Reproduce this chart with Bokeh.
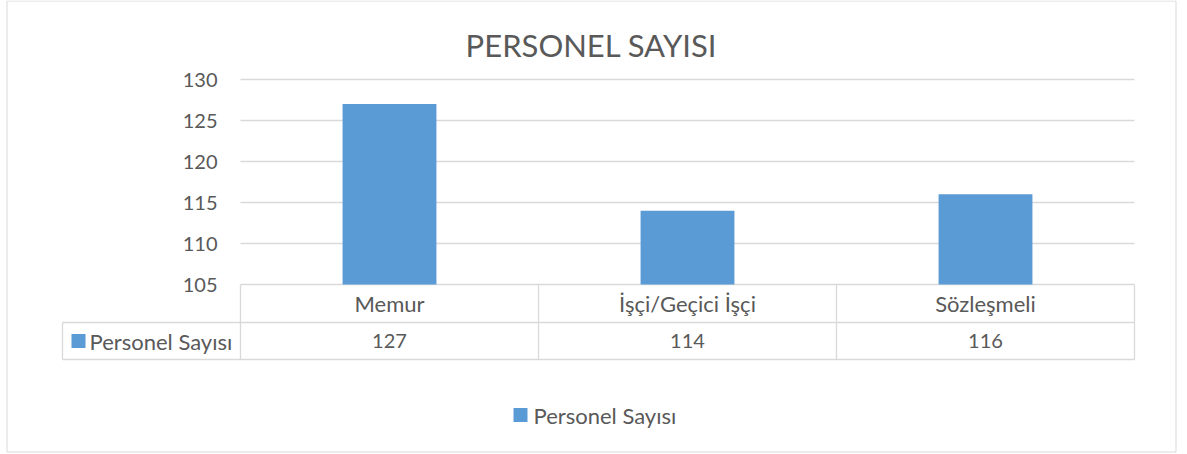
from bokeh.plotting import figure
from bokeh.models import Range1d
from bokeh.core.properties import value
from bokeh.embed import file_html
from bokeh.resources import INLINE

# ---- data ----
title_text = "PERSONEL SAYISI"
series_name = "Personel Sayısı"
categories = ["Memur", "İşçi/Geçici İşçi", "Sözleşmeli"]
values = [127, 114, 116]
y_ticks = [105, 110, 115, 120, 125, 130]
y_min, y_max = 105, 130

# ---- layout (pixels) ----
W, H = 1187, 454
PL, PR, PT, PB = 240, 1134, 79, 284          # plot area
ROW1, ROW2 = 322, 359                         # table row bottoms
TABLE_LEFT = 62
FONT = value("Lato")
TXT = "#595959"
GRID = "#d9d9d9"
BAR = "#5b9bd5"

n = len(categories)
px_per_cat = (PR - PL) / n
px_per_val = (PB - PT) / (y_max - y_min)

p = figure(width=W, height=H, output_backend="svg", toolbar_location=None,
           x_axis_type=None, y_axis_type=None,
           x_range=Range1d(0 - PL / px_per_cat, n + (W - PR) / px_per_cat),
           y_range=Range1d(y_min - (H - PB) / px_per_val, y_max + PT / px_per_val),
           min_border=0, outline_line_color=None)
p.grid.visible = False
p.extra_x_ranges = {"px": Range1d(0, W)}
p.extra_y_ranges = {"px": Range1d(H, 0)}

# outer border
p.quad(left=[6.5], right=[1175.5], top=[0.5], bottom=[451.5], fill_color=None,
       line_color=GRID, line_width=1, x_range_name="px", y_range_name="px")

# title
p.text(x=[591], y=[44], text=[title_text], text_font=FONT, text_font_size="31px",
       text_color=TXT, text_align="center", text_baseline="middle",
       x_range_name="px", y_range_name="px")

# gridlines
p.segment(x0=[0] * len(y_ticks), x1=[n] * len(y_ticks), y0=y_ticks, y1=y_ticks,
          line_color=GRID, line_width=1.3)

# y tick labels
p.text(x=[217] * len(y_ticks), y=y_ticks, text=[str(t) for t in y_ticks],
       text_font=FONT, text_font_size="20px", text_color=TXT,
       text_align="right", text_baseline="middle", x_range_name="px")

# bars
xc = [i + 0.5 for i in range(n)]
p.vbar(x=xc, top=values, bottom=y_min, width=0.315, fill_color=BAR, line_color=None)

# data table
p.segment(x0=[TABLE_LEFT, TABLE_LEFT], x1=[PR, PR], y0=[ROW1, ROW2], y1=[ROW1, ROW2],
          line_color=GRID, line_width=1.3, x_range_name="px", y_range_name="px")
p.segment(x0=list(range(n + 1)), x1=list(range(n + 1)), y0=[PB] * (n + 1), y1=[ROW2] * (n + 1),
          line_color=GRID, line_width=1.3, y_range_name="px")
p.segment(x0=[TABLE_LEFT], x1=[TABLE_LEFT], y0=[ROW1], y1=[ROW2],
          line_color=GRID, line_width=1.3, x_range_name="px", y_range_name="px")

p.text(x=xc, y=[(PB + ROW1) / 2] * n, text=categories, text_font=FONT,
       text_font_size="22px", text_color=TXT, text_align="center",
       text_baseline="middle", y_range_name="px")
p.text(x=xc, y=[(ROW1 + ROW2) / 2] * n, text=[str(v) for v in values], text_font=FONT,
       text_font_size="20px", text_color=TXT, text_align="center",
       text_baseline="middle", y_range_name="px")

# table legend key
p.rect(x=[78], y=[340.5], width=14, height=14, fill_color=BAR, line_color=None,
       x_range_name="px", y_range_name="px")
p.text(x=[89], y=[340.5], text=[series_name], text_font=FONT, text_font_size="22px",
       text_color=TXT, text_align="left", text_baseline="middle",
       x_range_name="px", y_range_name="px")

# bottom legend
p.rect(x=[520], y=[414.5], width=14, height=14, fill_color=BAR, line_color=None,
       x_range_name="px", y_range_name="px")
p.text(x=[533], y=[414.5], text=[series_name], text_font=FONT, text_font_size="22px",
       text_color=TXT, text_align="left", text_baseline="middle",
       x_range_name="px", y_range_name="px")

open("out.html", "w").write(file_html(p, INLINE))
